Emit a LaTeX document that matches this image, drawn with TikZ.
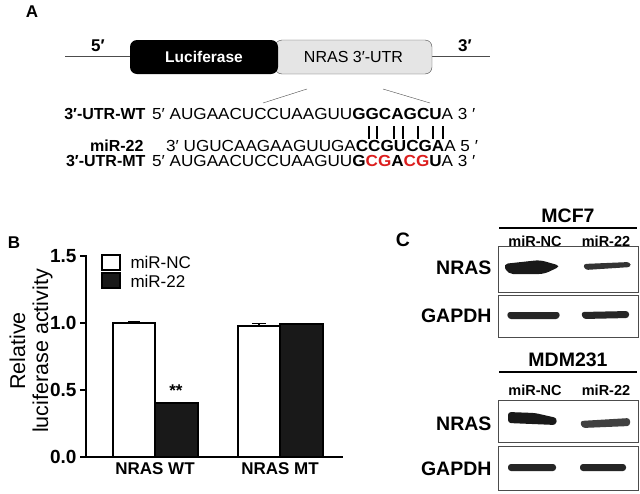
\documentclass[tikz,border=0pt]{standalone}
\usepackage{fontspec}
\setmainfont{Liberation Sans}
\usetikzlibrary{calc}
\definecolor{mred}{RGB}{220,30,30}
\begin{document}
\begin{tikzpicture}[x=1pt,y=-1pt,
  lbl/.style={font=\fontsize{17}{19}\selectfont\bfseries},
  big/.style={font=\fontsize{19.5}{21}\selectfont\bfseries},
  sm/.style={font=\fontsize{14.5}{16}\selectfont\bfseries},
  seq/.style={font=\fontsize{16}{18}\selectfont,inner sep=0pt},
  tick/.style={font=\fontsize{19}{21}\selectfont\bfseries,anchor=east},
  blot/.style={draw=black!70,line width=0.8pt,fill=white}]
\useasboundingbox (0,0) rectangle (640,493);
% ---------- A
\node[lbl] (A) at (32,12) {A};
\draw[black!70] (65,56) -- (490,56);
\node[draw=black!70,fill=black!10,rounded corners=7pt,minimum width=157,minimum height=34,inner sep=0,font=\fontsize{16}{18}\selectfont] (utr) at (353.5,57) {NRAS 3′-UTR};
\node[fill=black,rounded corners=7pt,minimum width=148,minimum height=34,inner sep=0,text=white,font=\fontsize{15.5}{17}\selectfont\bfseries] (luc) at (204,57) {Luciferase};
\node[lbl] (p5) at (98,46) {5′};
\node[lbl] (p3) at (465,46) {3′};
\coordinate (u1) at (307,89); \coordinate (u2) at (383,89);
\coordinate (s1) at (263,103); \coordinate (s2) at (430,103);
\draw[black!70] (u1) -- (s1); \draw[black!70] (u2) -- (s2);
\node[lbl,anchor=east,font=\fontsize{16}{18}\selectfont\bfseries] (wt) at (149,114) {3′-UTR-WT};
\node[seq,anchor=west] (wts) at (152,114) {\scalebox{1.07}[1]{5′ AUGAACUCCUAAGUU\textbf{GGCAGCU}A 3 ′}};
\node[lbl,anchor=east,font=\fontsize{16}{18}\selectfont\bfseries] (mir) at (147,146) {miR-22};
\node[seq,anchor=west] (mirs) at (166,146) {\scalebox{1.07}[1]{3′ UGUCAAGAAGUUGA\textbf{CCGUCGA}A 5 ′}};
\node[lbl,anchor=east,font=\fontsize{16}{18}\selectfont\bfseries] (mt) at (149,161) {3′-UTR-MT};
\node[seq,anchor=west] (mts) at (152,161) {\scalebox{1.07}[1]{5′ AUGAACUCCUAAGUU\textbf{G\textcolor{mred}{CG}A\textcolor{mred}{CG}U}A 3 ′}};
\foreach \x in {369,377,394,403,418,433,443}{\draw[line width=1.3pt] (\x,126) -- (\x,139);}
% ---------- B
\node[lbl] (B) at (14,243) {B};
\draw[line width=1.3pt] (86,255) -- (86,457) -- (343,457);
\foreach \v/\y in {0.0/457,0.5/390,1.0/323,1.5/256}{
  \draw[line width=1.3pt] (80,\y) -- (86,\y);
  \node[tick] at (80,\y) {\v};}
\node[rotate=90,align=center,font=\fontsize{21.5}{23}\selectfont] (yl) at (31,351) {Relative\\luciferase activity};
\draw[line width=1.3pt,fill=white] (113,457) rectangle (155,323);
\draw[line width=1.3pt,fill=black!90] (155,457) rectangle (198,403);
\draw[line width=1.3pt,fill=white] (238,457) rectangle (280,326);
\draw[line width=1.3pt,fill=black!90] (280,457) rectangle (323,324);
\draw[line width=1.2pt] (134,323)--(134,321.5) (128,321.5)--(140,321.5);
\draw[line width=1.2pt] (259,326)--(259,323.5) (252,323.5)--(266,323.5);
\node[lbl] (st) at (176,391) {**};
\node[lbl,anchor=north] (xw) at (155,459) {NRAS WT};
\node[lbl,anchor=north] (xm) at (280,459) {NRAS MT};
\draw[line width=1.3pt,fill=white] (102,255) rectangle (120,270);
\draw[line width=1.3pt,fill=black!90] (102,273) rectangle (120,288);
\node[font=\fontsize{17}{19}\selectfont,anchor=west] (l1) at (127,262) {miR-NC};
\node[font=\fontsize{17}{19}\selectfont,anchor=west] (l2) at (127,281) {miR-22};
% ---------- C
\node[big] (C) at (403,240) {C};
\node[big] (mcf) at (568,216) {MCF7};
\draw[line width=1.2pt] (499,228) -- (637,228);
\node[sm] at (535,241) {miR-NC};
\node[sm] at (606,241) {miR-22};
\node[blot,minimum width=140,minimum height=46,inner sep=0] (b1) at (568,269) {};
\node[blot,minimum width=140,minimum height=42,inner sep=0] (b2) at (568,316) {};
\node[big,anchor=east] at (495,268) {NRAS};
\node[big,anchor=east] at (495,316) {GAPDH};
\fill[black!90,rounded corners=5pt] (503,264) -- (540,260) -- (561,266) -- (544,274) -- (508,274) -- cycle;
\fill[black!80,rounded corners=3pt] (583,264) -- (630,262) -- (631,267) -- (585,270) -- cycle;
\fill[black!85,rounded corners=3pt] (507,312) -- (560,312) -- (559,319) -- (508,319) -- cycle;
\fill[black!85,rounded corners=3pt] (581,312) -- (629,311) -- (629,318) -- (583,319) -- cycle;
\node[big] (mdm) at (568,360) {MDM231};
\draw[line width=1.2pt] (499,372) -- (637,372);
\node[sm] at (535,390) {miR-NC};
\node[sm] at (606,390) {miR-22};
\node[blot,minimum width=140,minimum height=42,inner sep=0] (b3) at (568,421) {};
\node[blot,minimum width=140,minimum height=44,inner sep=0] (b4) at (568,468) {};
\node[big,anchor=east] at (495,424) {NRAS};
\node[big,anchor=east] at (495,469) {GAPDH};
\fill[black!90,rounded corners=3pt] (508,412) -- (535,413) -- (557,418) -- (556,425) -- (508,423) -- cycle;
\fill[black!75,rounded corners=3pt] (580,421) -- (630,418) -- (630,426) -- (582,428) -- cycle;
\fill[black!85,rounded corners=3pt] (508,464) -- (556,464) -- (556,471) -- (508,471) -- cycle;
\fill[black!85,rounded corners=3pt] (580,464) -- (626,464) -- (626,471) -- (580,471) -- cycle;
\end{tikzpicture}
\end{document}
